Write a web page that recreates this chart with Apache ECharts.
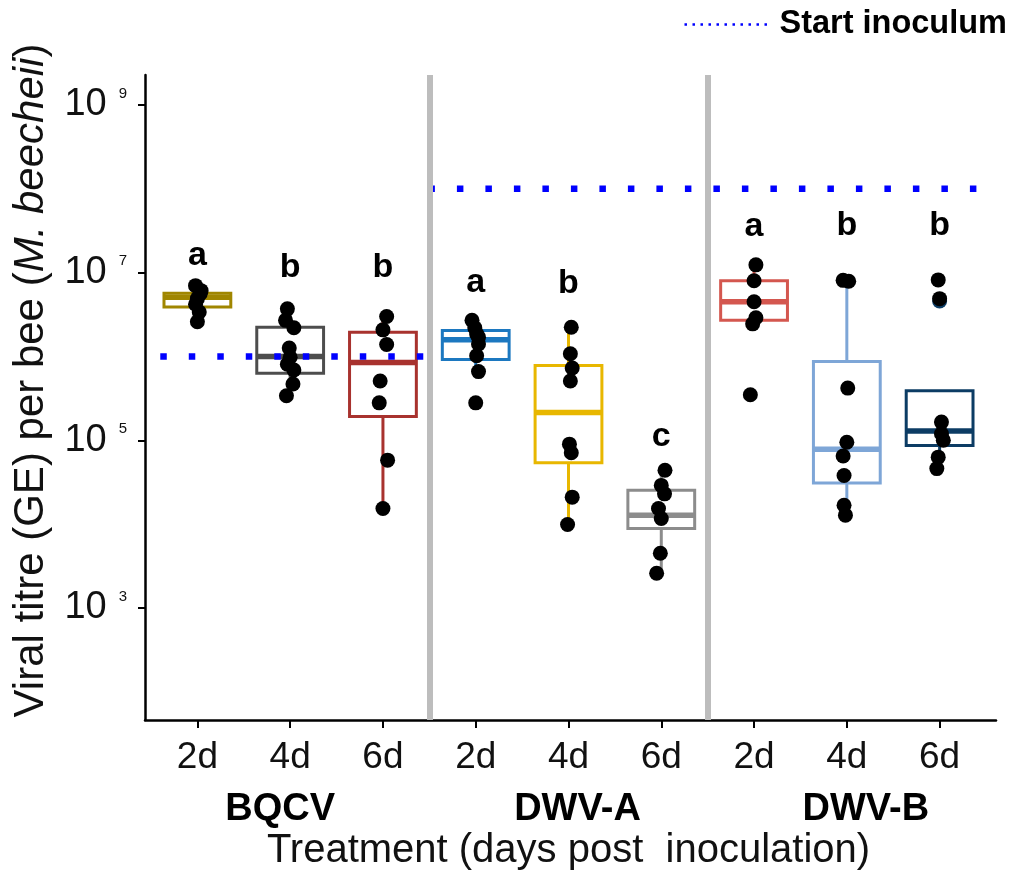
<!DOCTYPE html>
<html>
<head>
<meta charset="utf-8">
<script src="https://cdn.jsdelivr.net/npm/echarts@6/dist/echarts.min.js"></script>
<style>html,body{margin:0;padding:0;background:#fff;}#c{width:1013px;height:884px;}</style>
</head>
<body>
<div id="c"></div>
<script>
// ---- data ----
const viruses = ['BQCV', 'DWV-A', 'DWV-B'];
const days = ['2d', '4d', '6d'];
const categories = ['BQCV 2d', 'BQCV 4d', 'BQCV 6d', 'DWV-A 2d', 'DWV-A 4d', 'DWV-A 6d', 'DWV-B 2d', 'DWV-B 4d', 'DWV-B 6d'];
const boxColors = ['#A08600', '#4D4D4D', '#A8322E', '#1C78C0', '#E8B700', '#8C8C8C', '#D4574F', '#7EA6D7', '#0C3C64'];

// box five-number summaries (GE per bee)
const boxMin    = [2.6e6, 3.4e5, 1.54e4, 6.6e5, 9.9e3, 2.6e3, 2.45e6, 1.28e4, 4.6e4];
const boxQ1     = [3.9e6, 6.3e5, 1.93e5, 9.2e5, 5.4e4, 8.9e3, 2.7e6, 3.1e4, 8.7e4];
const boxMedian = [5.1e6, 1.0e6, 8.5e5, 1.58e6, 2.14e5, 1.28e4, 4.5e6, 7.8e4, 1.29e5];
const boxQ3     = [5.7e6, 2.23e6, 1.95e6, 2.04e6, 7.8e5, 2.54e4, 8.0e6, 8.7e5, 3.9e5];
const boxMax    = [7.0e6, 3.7e6, 3.0e6, 2.7e6, 2.23e6, 4.4e4, 1.24e7, 7.7e6, 3.9e5];

// outliers (drawn in box colour, under the points)
const outlierGroup = [8];
const outlierValue = [4.6e6];

// individual bees
const ptsBQCV2d = [7.0e6, 6.1e6, 5.6e6, 4.9e6, 4.2e6, 3.4e6, 2.6e6];
const jitBQCV2d = [-0.02, 0.04, 0.03, 0.0, -0.02, 0.02, 0.0];
const ptsBQCV4d = [3.7e6, 2.7e6, 2.2e6, 1.26e6, 9.8e5, 8.1e5, 6.9e5, 4.7e5, 3.4e5];
const jitBQCV4d = [-0.03, -0.05, 0.04, -0.01, 0.0, -0.03, 0.04, 0.03, -0.04];
const ptsBQCV6d = [3.0e6, 2.08e6, 1.39e6, 5.1e5, 2.8e5, 5.8e4, 1.54e4];
const jitBQCV6d = [0.04, 0.0, 0.04, -0.03, -0.04, 0.05, 0.0];
const ptsDWVA2d = [2.7e6, 2.2e6, 1.86e6, 1.7e6, 1.41e6, 1.02e6, 6.6e5, 2.8e5];
const jitDWVA2d = [-0.04, -0.01, 0.01, 0.03, 0.03, 0.01, 0.03, 0.0];
const ptsDWVA4d = [2.23e6, 1.08e6, 7.3e5, 5.1e5, 9.0e4, 7.1e4, 2.1e4, 9.9e3];
const jitDWVA4d = [0.03, 0.02, 0.04, 0.02, 0.01, 0.03, 0.04, -0.01];
const ptsDWVA6d = [4.4e4, 2.9e4, 2.3e4, 1.54e4, 1.17e4, 4.5e3, 2.6e3];
const jitDWVA6d = [0.04, 0.0, 0.035, -0.03, 0.0, -0.01, -0.05];
const ptsDWVB2d = [1.24e7, 8.0e6, 4.5e6, 2.9e6, 2.45e6, 3.5e5];
const jitDWVB2d = [0.02, 0.0, 0.0, 0.02, -0.015, -0.04];
const ptsDWVB4d = [8.1e6, 7.9e6, 4.2e5, 9.5e4, 6.5e4, 3.8e4, 1.68e4, 1.28e4];
const jitDWVB4d = [-0.04, 0.02, 0.01, 0.0, -0.04, -0.03, -0.03, -0.015];
const ptsDWVB6d = [8.2e6, 4.9e6, 1.65e5, 1.2e5, 1.0e5, 6.3e4, 4.6e4];
const jitDWVB6d = [-0.015, 0.0, 0.02, 0.02, 0.04, -0.015, -0.03];

// significance letters
const letters = ['a', 'b', 'b', 'a', 'b', 'c', 'a', 'b', 'b'];
const letterY = [1.6e7, 1.15e7, 1.15e7, 7.6e6, 7.4e6, 1.1e5, 3.5e7, 3.6e7, 3.6e7];

// start inoculum reference lines (per facet)
const refValue = [1e6, 1e8];
const refStart = [-0.40, 2.49];
const refEnd   = [2.45, 8.41];

// axis
const yTickValues = [1e3, 1e5, 1e7, 1e9];
const yMin = 46.1, yMax = 2.28e9;
const facetBreaks = [2.5, 5.5];

// ---- build ----
const FONT = 'Liberation Sans, Arial, Helvetica, sans-serif';
const groupPts = [ptsBQCV2d, ptsBQCV4d, ptsBQCV6d, ptsDWVA2d, ptsDWVA4d, ptsDWVA6d, ptsDWVB2d, ptsDWVB4d, ptsDWVB6d];
const groupJit = [jitBQCV2d, jitBQCV4d, jitBQCV6d, jitDWVA2d, jitDWVA4d, jitDWVA6d, jitDWVB2d, jitDWVB4d, jitDWVB6d];
const pointData = [];
groupPts.forEach((arr, g) => arr.forEach((v, k) => pointData.push([g + groupJit[g][k], v])));

const boxData = categories.map((c, i) => [i, boxMin[i], boxQ1[i], boxMedian[i], boxQ3[i], boxMax[i]]);
const outlierData = outlierGroup.map((g, k) => ({ value: [g, outlierValue[k]], itemStyle: { color: boxColors[g], opacity: 1 } }));
const letterData = categories.map((c, i) => [i, letterY[i]]);

function renderBox(params, api) {
  const x = api.value(0);
  const lo = api.coord([x, api.value(1)]);
  const q1 = api.coord([x, api.value(2)]);
  const md = api.coord([x, api.value(3)]);
  const q3 = api.coord([x, api.value(4)]);
  const hi = api.coord([x, api.value(5)]);
  const half = api.size([1, 0])[0] * 0.36;
  const col = boxColors[params.dataIndex];
  return {
    type: 'group',
    children: [
      { type: 'line', shape: { x1: lo[0], y1: lo[1], x2: q1[0], y2: q1[1] }, style: { stroke: col, lineWidth: 3 } },
      { type: 'line', shape: { x1: q3[0], y1: q3[1], x2: hi[0], y2: hi[1] }, style: { stroke: col, lineWidth: 3 } },
      { type: 'rect', shape: { x: q3[0] - half, y: q3[1], width: 2 * half, height: q1[1] - q3[1] }, style: { fill: '#fff', stroke: col, lineWidth: 3 } },
      { type: 'line', shape: { x1: md[0] - half, y1: md[1], x2: md[0] + half, y2: md[1] }, style: { stroke: col, lineWidth: 5.5 } }
    ]
  };
}

const refSeries = refValue.map((v, k) => ({
  name: 'Start inoculum',
  type: 'line',
  xAxisIndex: 1,
  yAxisIndex: 0,
  data: [[refStart[k], v], [refEnd[k], v]],
  symbol: 'none',
  silent: true,
  z: 3,
  lineStyle: { color: '#0000FF', width: 6.5, type: [6.5, 22], cap: 'butt' },
  itemStyle: { color: '#0000FF' }
}));

// facet label nudges (style only)
const facetRich = {
  f0: { fontSize: 38, fontWeight: 'bold', color: '#000', fontFamily: FONT, padding: [0, 20, 0, 0] },
  f1: { fontSize: 38, fontWeight: 'bold', color: '#000', fontFamily: FONT, padding: [0, 0, 0, 18] },
  f2: { fontSize: 38, fontWeight: 'bold', color: '#000', fontFamily: FONT, padding: [0, 0, 0, 38] }
};

const chart = echarts.init(document.getElementById('c'), null, { renderer: 'canvas' });
chart.setOption({
  animation: false,
  backgroundColor: '#fff',
  textStyle: { fontFamily: FONT },
  legend: {
    data: [{ name: 'Start inoculum', itemStyle: { opacity: 0 } }],
    right: 6, top: 8, padding: 0,
    itemWidth: 84, itemHeight: 12, itemGap: 10,
    itemStyle: { opacity: 0 },
    textStyle: { fontSize: 32.5, fontWeight: 'bold', color: '#000', fontFamily: FONT, padding: [0, 0, 0, 6] },
    lineStyle: { width: 2.5, type: [2.5, 5.5], color: '#0000FF', opacity: 1 }
  },
  grid: [
    { left: 151, right: 27, top: 75, bottom: 164 },
    { left: 145, right: 17, top: 75, bottom: 164 }
  ],
  xAxis: [
    {
      type: 'category', gridIndex: 0, data: categories,
      axisLine: { show: false },
      axisTick: { show: true, alignWithLabel: true, length: 8, lineStyle: { color: '#000', width: 2 } },
      axisLabel: { formatter: v => v.split(' ')[1], fontSize: 37, color: '#111', margin: 19, fontFamily: FONT },
      splitLine: { show: false },
      name: 'Treatment (days post  inoculation)',
      nameLocation: 'middle', nameGap: 111,
      nameTextStyle: { fontSize: 40, color: '#111', fontFamily: FONT }
    },
    {
      type: 'value', gridIndex: 0, min: -0.5, max: 8.5, show: false
    },
    {
      type: 'category', gridIndex: 0, data: viruses, position: 'bottom',
      axisLine: { show: false }, axisTick: { show: false },
      axisLabel: {
        margin: 71, fontFamily: FONT,
        formatter: (v, i) => '{f' + i + '|' + v + '}',
        rich: facetRich
      },
      splitLine: { show: false }
    },
    {
      type: 'value', gridIndex: 1, min: 0, max: 1,
      axisLine: { show: true, lineStyle: { color: '#000', width: 2.5 } },
      axisTick: { show: false }, axisLabel: { show: false }, splitLine: { show: false }
    }
  ],
  yAxis: [
    {
      type: 'log', logBase: 10, gridIndex: 0, min: yMin, max: yMax, offset: 6,
      axisLine: { show: true, onZero: false, lineStyle: { color: '#000', width: 2.5 } },
      axisTick: { show: true, length: 7, customValues: yTickValues, lineStyle: { color: '#000', width: 2 } },
      axisLabel: {
        customValues: yTickValues,
        margin: 18,
        formatter: v => '{a|10}{b|' + Math.round(Math.log10(v)) + '}',
        rich: {
          a: { fontSize: 38, color: '#111', fontFamily: FONT, lineHeight: 38 },
          b: { fontSize: 15, color: '#111', fontFamily: FONT, verticalAlign: 'top', padding: [0, 0, 0, 12], lineHeight: 38 }
        }
      },
      splitLine: { show: false },
      name: 'Viral titre (GE) per bee ({i|M. beecheii})',
      nameLocation: 'middle', nameRotate: 90, nameGap: 93,
      nameTextStyle: {
        fontSize: 42, color: '#111', fontFamily: FONT, padding: [0, 0, 0, 34],
        rich: { i: { fontSize: 42, fontStyle: 'italic', color: '#111', fontFamily: FONT } }
      }
    },
    { type: 'value', gridIndex: 1, show: false, min: 0, max: 1 }
  ],
  series: [
    {
      name: 'boxes', type: 'custom', xAxisIndex: 0, yAxisIndex: 0,
      data: boxData, renderItem: renderBox,
      encode: { x: 0, y: [1, 2, 3, 4, 5] }, z: 2, silent: true
    },
    ...refSeries,
    {
      name: 'outliers', type: 'scatter', xAxisIndex: 0, yAxisIndex: 0,
      data: outlierData, symbolSize: 15, z: 4, silent: true
    },
    {
      name: 'bees', type: 'scatter', xAxisIndex: 1, yAxisIndex: 0,
      data: pointData, symbolSize: 15, itemStyle: { color: '#000', opacity: 1 }, z: 5, silent: true,
      markLine: {
        silent: true, symbol: 'none', label: { show: false },
        lineStyle: { color: '#BDBDBD', width: 6, type: 'solid', opacity: 1 },
        data: facetBreaks.map(b => ({ xAxis: b }))
      }
    },
    {
      name: 'letters', type: 'scatter', xAxisIndex: 0, yAxisIndex: 0,
      data: letterData, symbolSize: 0, z: 6, silent: true,
      itemStyle: { opacity: 1 },
      label: {
        show: true, position: 'inside',
        formatter: p => letters[p.dataIndex],
        fontSize: 34, fontWeight: 'bold', color: '#000', fontFamily: FONT
      }
    }
  ]
});
</script>
</body>
</html>
